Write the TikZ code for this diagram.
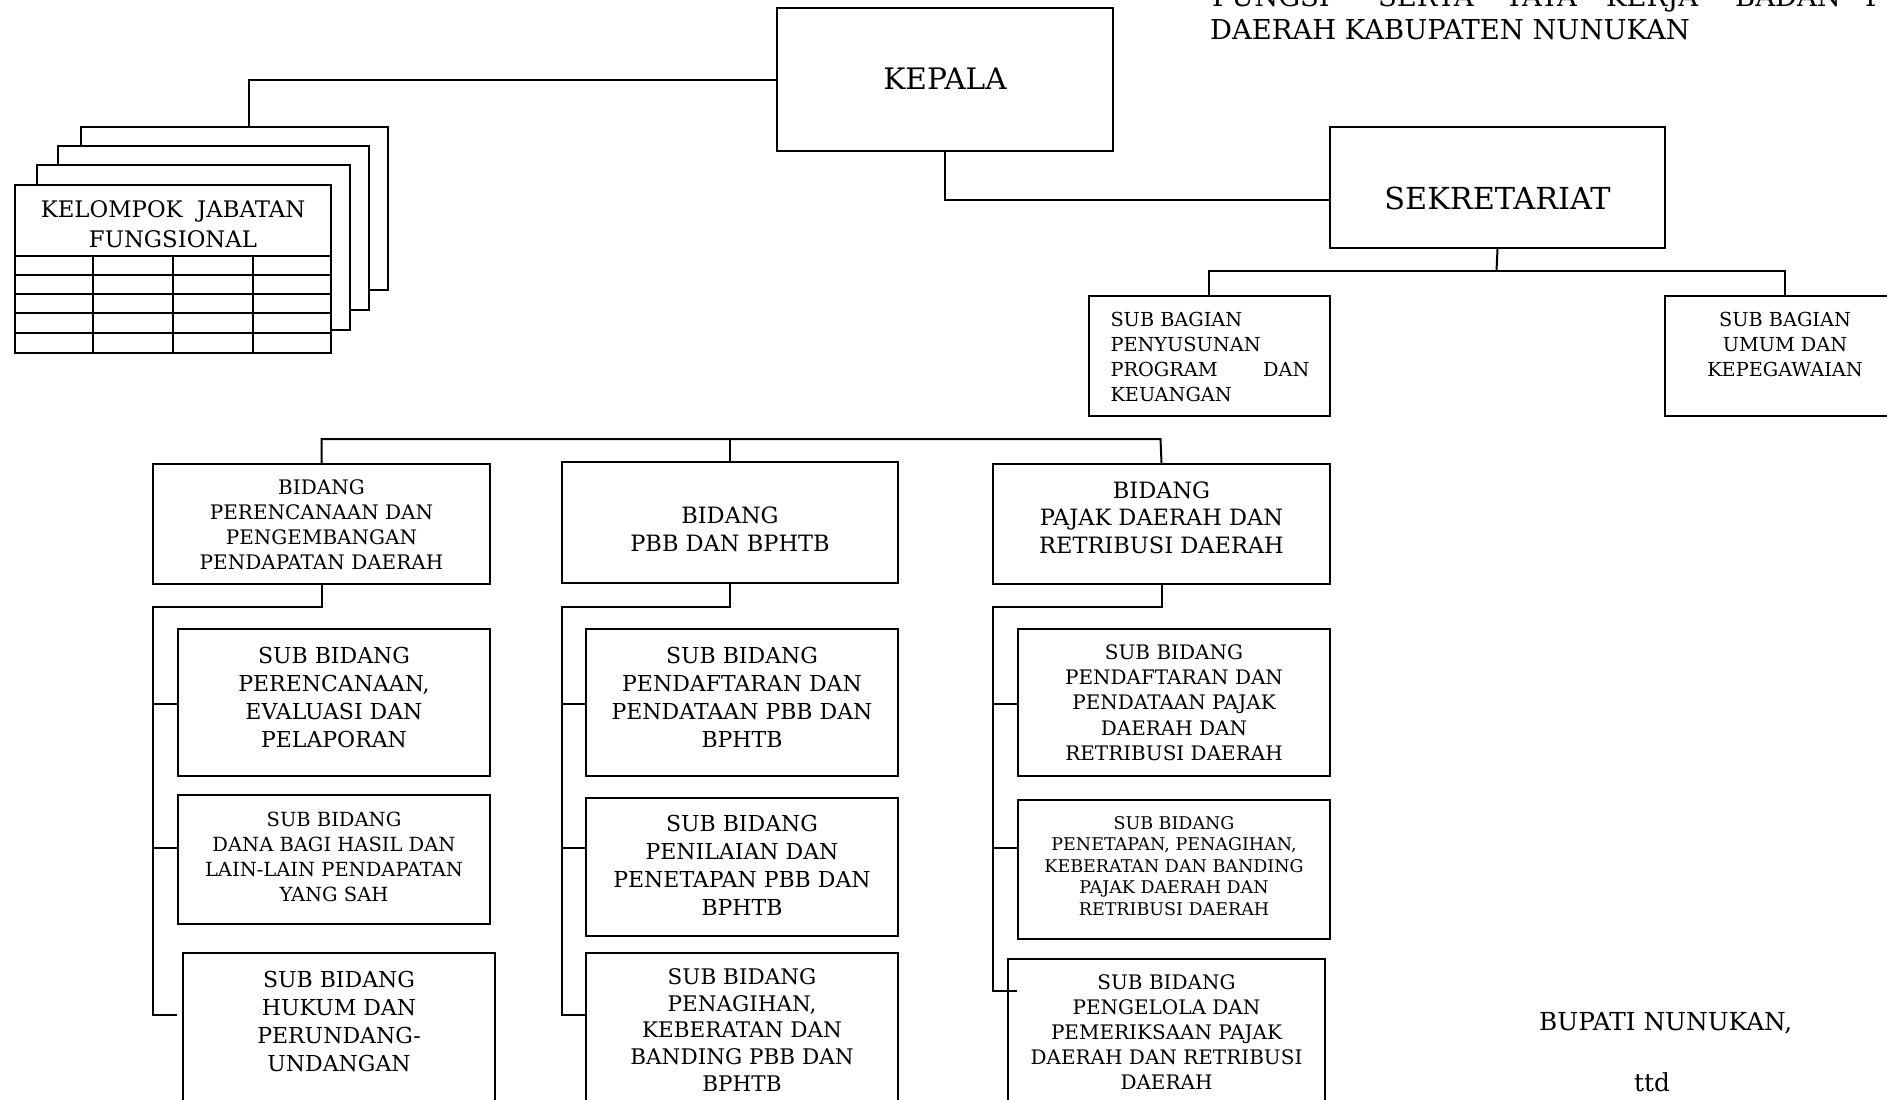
\documentclass[tikz,border=0pt]{standalone}
\usepackage{fontspec}
\setmainfont{DejaVu Serif}
\usetikzlibrary{calc}
\tikzset{
  box/.style={draw, line width=2pt, inner sep=0pt, anchor=north west, fill=white},
  conn/.style={line width=2pt},
  txt/.style={inner sep=0pt, anchor=base west},
}
% width, height, top skip, font size, baselineskip, text
\newcommand\bt[6]{\parbox[c][#2pt][t]{#1pt}{\centering\fontsize{#4pt}{#5pt}\selectfont\vspace*{#3pt}#6\par}}
\begin{document}
\begin{tikzpicture}[x=1pt,y=-1pt]
\useasboundingbox (0,0) rectangle (1887,1100);
\fill[white] (0,0) rectangle (1887,1100);

% header text
\begin{scope}[every node/.style={txt, font=\fontsize{27.4pt}{34pt}\selectfont}]
\node (hw1) at (1212,6) {FUNGSI};
\node (hw2) at (1378,6) {SERTA};
\node (hw3) at (1505,6) {TATA};
\node (hw4) at (1606,6) {KERJA};
\node (hw5) at (1735,6) {BADAN};
\node (hw6) at (1865,6) {P};
\node (h2) at (1210,39) {DAERAH KABUPATEN NUNUKAN};
\end{scope}

% top level
\node[box] (KEP) at (776,7) {\bt{336}{143}{60.4}{29.6}{36}{KEPALA}};
\node[box] (SEK) at (1329,126) {\bt{335}{121}{60}{30.3}{36}{SEKRETARIAT}};
\node[box] (SB1) at (1088,295) {\parbox[c][120pt][t]{240.6pt}{\raggedright\leftskip=21.5pt\fontsize{19.3pt}{25pt}\selectfont\vspace*{15.9pt}SUB BAGIAN\\PENYUSUNAN\\\makebox[199pt][s]{PROGRAM DAN}\\KEUANGAN\par}};
\node[box] (SB2) at (1664,295) {\bt{240}{120}{15.9}{19.3}{25}{SUB BAGIAN\\UMUM DAN\\KEPEGAWAIAN}};

% kelompok jabatan fungsional (stacked pages)
\node[box, minimum width=307pt, minimum height=163pt] (P4) at (80,126) {};
\node[box, minimum width=311pt, minimum height=164pt] (P3) at (57,145) {};
\node[box, minimum width=313pt, minimum height=165pt] (P2) at (36,164) {};
\node[box] (P1) at (14,184) {\bt{316}{168}{16}{22.8}{30}{KELOMPOK\ \ JABATAN\\FUNGSIONAL}};
\foreach \yy in {256,275,294,313,333} \draw[conn] (14,\yy) -- (330,\yy);
\foreach \xx in {93,173,253} \draw[conn] (\xx,256) -- (\xx,352);

% bidang
\node[box] (B1) at (152,463) {\bt{337}{120}{15.4}{20}{25}{BIDANG\\PERENCANAAN DAN\\PENGEMBANGAN\\PENDAPATAN DAERAH}};
\node[box] (B2) at (561,461) {\bt{336}{121}{44.6}{22.5}{28}{BIDANG\\PBB DAN BPHTB}};
\node[box] (B3) at (992,463) {\bt{337}{120}{17.6}{22.5}{27.5}{BIDANG\\PAJAK DAERAH DAN\\RETRIBUSI DAERAH}};

% sub bidang col 1
\node[box] (S11) at (177,628) {\bt{312}{147}{18}{22}{28}{SUB BIDANG\\PERENCANAAN,\\EVALUASI DAN\\PELAPORAN}};
\node[box] (S12) at (177,794) {\bt{312}{129}{16.8}{19.5}{25}{SUB BIDANG\\DANA BAGI HASIL DAN\\LAIN-LAIN PENDAPATAN\\YANG SAH}};
\node[box] (S13) at (182,952) {\bt{312}{180}{18}{22}{28}{SUB BIDANG\\HUKUM DAN\\PERUNDANG-\\UNDANGAN}};
% col 2
\node[box] (S21) at (585,628) {\bt{312}{147}{18}{22}{28}{SUB BIDANG\\PENDAFTARAN DAN\\PENDATAAN PBB DAN\\BPHTB}};
\node[box] (S22) at (585,797) {\bt{312}{138}{17}{22}{28}{SUB BIDANG\\PENILAIAN DAN\\PENETAPAN PBB DAN\\BPHTB}};
\node[box] (S23) at (585,952) {\bt{312}{180}{15.3}{21.5}{26.8}{SUB BIDANG\\PENAGIHAN,\\KEBERATAN DAN\\BANDING PBB DAN\\BPHTB}};
% col 3
\node[box] (S31) at (1017,628) {\bt{312}{147}{15.4}{20}{25.3}{SUB BIDANG\\PENDAFTARAN DAN\\PENDATAAN PAJAK\\DAERAH DAN\\RETRIBUSI DAERAH}};
\node[box] (S32) at (1017,799) {\bt{312}{139}{16.2}{17.5}{21.5}{SUB BIDANG\\PENETAPAN, PENAGIHAN,\\KEBERATAN DAN BANDING\\PAJAK DAERAH DAN\\RETRIBUSI DAERAH}};
\node[box] (S33) at (1007,958) {\bt{317}{180}{15.4}{20}{25}{SUB BIDANG\\PENGELOLA DAN\\PEMERIKSAAN PAJAK\\DAERAH DAN RETRIBUSI\\DAERAH}};

% signature
\node[txt, font=\fontsize{24.8pt}{30pt}\selectfont] (bup) at (1539,1030) {BUPATI NUNUKAN,};
\node[txt, font=\fontsize{24.8pt}{30pt}\selectfont] (ttd) at (1634,1091) {ttd};

% connectors
\draw[conn] (KEP.west) -| ([xshift=14.5pt]P4.north);
\draw[conn] (KEP.south) |- ([yshift=-12.5pt]SEK.west);
\coordinate (sb) at (1496.5,271);
\draw[conn] (SEK.south) -- (sb);
\draw[conn] (SB1.north) |- (sb) -| (SB2.north);

\coordinate (bus1) at (320.5,439);
\coordinate (bus3) at (1160.5,439);
\draw[conn] (B1.north) -- (B1.north |- bus1) -- (bus3) -- (B3.north);
\draw[conn] (B2.north) -- (B2.north |- bus1);

\coordinate (L1t) at (153,607);
\coordinate (L1b) at (153,1015);
\draw[conn] (B1.south) |- (L1t) -- (L1b) -- ([xshift=-5pt]S13.west |- L1b);
\draw[conn] ([yshift=-1.5pt]S11.west) -- ([yshift=-1.5pt]S11.west -| L1t);
\draw[conn] ([yshift=11.5pt]S12.west) -- ([yshift=11.5pt]S12.west -| L1t);

\coordinate (L2t) at (562,607);
\coordinate (L2b) at (562,1015);
\draw[conn] (B2.south) |- (L2t) -- (L2b) -- (S23.west |- L2b);
\draw[conn] ([yshift=-1.5pt]S21.west) -- ([yshift=-1.5pt]S21.west -| L2t);
\draw[conn] ([yshift=19pt]S22.west) -- ([yshift=19pt]S22.west -| L2t);

\coordinate (L3t) at (993,607);
\coordinate (L3b) at (993,991);
\draw[conn] (B3.south) |- (L3t) -- (L3b) -- ([xshift=10pt]S33.west |- L3b);
\draw[conn] ([yshift=-1.5pt]S31.west) -- ([yshift=-1.5pt]S31.west -| L3t);
\draw[conn] ([yshift=21.5pt]S32.west) -- ([yshift=21.5pt]S32.west -| L3t);
\end{tikzpicture}
\end{document}
